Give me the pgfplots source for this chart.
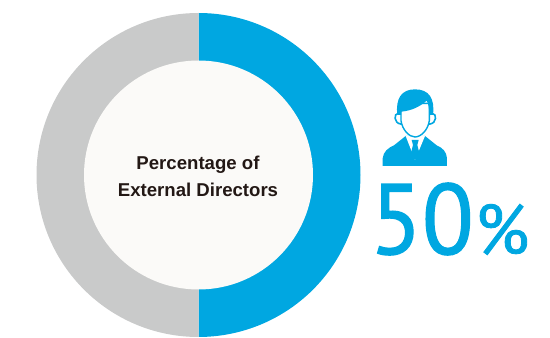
\documentclass[border=0pt]{standalone}
\usepackage{pgfplots}
\pgfplotsset{compat=1.18}
\usepackage{fontspec}
\setmainfont{Liberation Sans}
\newfontfamily\bigfont[RawFeature={embolden=1.2}]{PT Sans}
\newfontfamily\pctfont[RawFeature={embolden=1.2}]{PT Sans}
\definecolor{ringblue}{HTML}{00A7E1}
\definecolor{ringgrey}{HTML}{C9CACA}
\definecolor{holefill}{HTML}{FBFAF8}
\definecolor{labeltext}{HTML}{231815}
% Shares of the board, in percent
\pgfmathsetmacro{\externalshare}{50}
\pgfmathsetmacro{\sweep}{\externalshare*3.6}
\begin{document}
\begin{tikzpicture}
\begin{axis}[
  scale only axis, width=550pt, height=338pt,
  xmin=0, xmax=550, ymin=0, ymax=338,
  hide axis, clip=false,
]
% invisible series fixes the drawn range of the axis
\addplot[draw=none, forget plot] coordinates {(0,0) (550,338)};
% ring segments, clockwise from twelve o'clock
\fill[ringblue] (axis cs:198.5,163) ++(90:162) arc[start angle=90, delta angle=-\sweep, radius=162] -- (axis cs:198.5,163) -- cycle;
\fill[ringgrey] (axis cs:198.5,163) ++(90-\sweep:162) arc[start angle=90-\sweep, delta angle=-360+\sweep, radius=162] -- (axis cs:198.5,163) -- cycle;
\fill[holefill] (axis cs:198.5,163) circle[radius=114.5];
\node[align=center, text=labeltext, font=\fontsize{18.6}{26.5}\selectfont\bfseries] at (axis cs:198,161.5) {Percentage of\\External Directors};
% large figure
\node[anchor=base west, inner sep=0pt, text=ringblue, font=\bigfont\fontsize{100}{100}\selectfont, xscale=0.95] at (axis cs:370,84) {50};
\node[anchor=base west, inner sep=0pt, text=ringblue, font=\pctfont\fontsize{70}{70}\selectfont, xscale=1.0] at (axis cs:475,84) {\%};
% person icon
\begin{scope}[shift={(axis cs:370,258)}, x=0.3333pt, y=-0.3333pt]
  \fill[ringblue] (38,258) -- (38,235) .. controls (40,215) and (55,203) .. (72,196) -- (107,168) -- (165,168) -- (200,196) .. controls (217,203) and (230,215) .. (231,235) -- (231,258) -- cycle;
  \fill[white] (107,168) -- (135,240) -- (165,168) -- (135,160) -- cycle;
  \fill[ringblue] (125,180) -- (146,180) -- (142,195) -- (149,222) -- (135,240) -- (122,222) -- (129,195) -- cycle;
  \filldraw[fill=white, draw=ringblue, line width=1.6pt] (85,100) .. controls (70,100) and (72,130) .. (92,132) -- (180,132) .. controls (200,130) and (202,100) .. (186,100) -- cycle;
  \filldraw[fill=white, draw=ringblue, line width=1.4pt] (93,70) -- (93,122) .. controls (97,150) and (118,171) .. (135,171) .. controls (153,171) and (174,150) .. (178,122) -- (178,70) -- cycle;
  \fill[ringblue] (82,105) .. controls (76,55) and (95,28) .. (135,28) .. controls (177,28) and (195,55) .. (189,105) -- (178,105) .. controls (178,85) and (175,70) .. (170,62) .. controls (150,80) and (125,92) .. (94,95) -- (93,105) -- cycle;
\end{scope}
\end{axis}
\end{tikzpicture}
\end{document}
